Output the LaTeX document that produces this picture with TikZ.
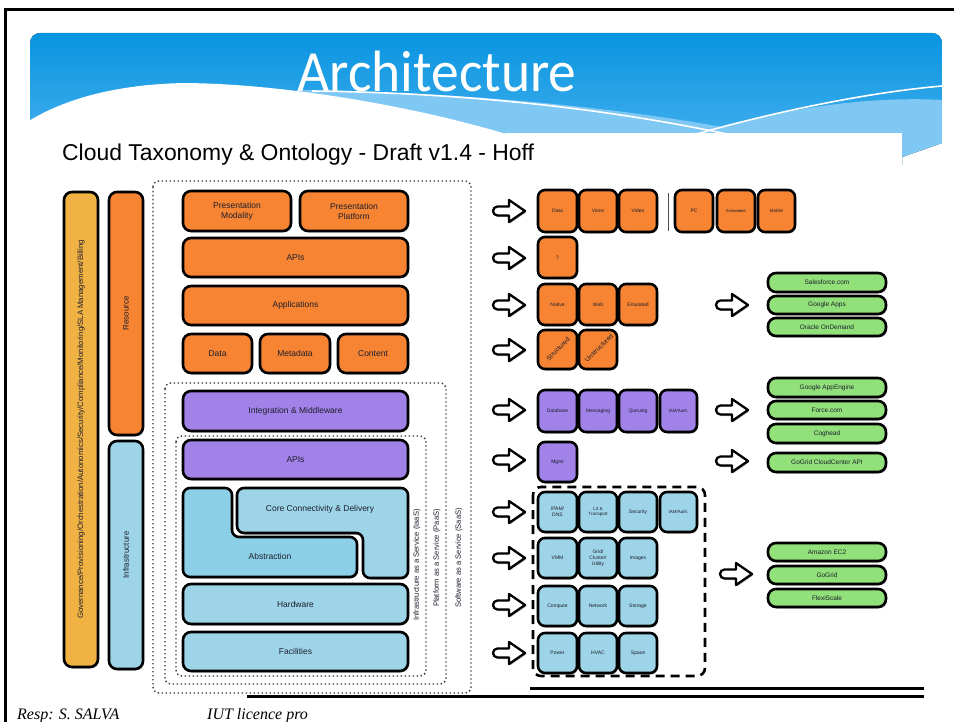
\documentclass[tikz,border=0pt]{standalone}
\usepackage{fontspec}
\setmainfont{Liberation Sans}
\newfontfamily\titlefont{Carlito}
\newfontfamily\footfont{Liberation Serif}
\usetikzlibrary{shadows}
\definecolor{borange}{RGB}{246,132,50}
\definecolor{gold}{RGB}{241,178,68}
\definecolor{bpurple}{RGB}{160,130,232}
\definecolor{lblue}{RGB}{157,212,232}
\definecolor{cblue}{RGB}{140,208,232}
\definecolor{bgreen}{RGB}{145,224,122}
\definecolor{hdrtop}{RGB}{8,148,224}
\definecolor{hdrbot}{RGB}{78,180,240}
\definecolor{wavelight}{RGB}{128,200,244}
\definecolor{txt}{RGB}{30,30,45}
\tikzset{
 shd/.style={drop shadow={shadow xshift=1pt,shadow yshift=-1.5pt,opacity=.3,fill=black}},
 bbox/.style={draw=black, line width=2.6pt, rounded corners=8pt, inner sep=0pt, align=center,
   font=\fontsize{8.5}{10}\selectfont, text=txt, shd},
 sbox/.style={bbox, rounded corners=7pt, font=\fontsize{5}{6}\selectfont},
 gbox/.style={bbox, fill=bgreen, font=\fontsize{6.5}{7.5}\selectfont},
 vlab/.style={rotate=90, text=txt, inner sep=0pt},
 dotbox/.style={draw=black!80, line width=1.4pt, dash pattern=on 1.4pt off 2.6pt, rounded corners=6pt},
 harrow/.pic={\draw[line width=2.3pt, fill=white, line join=round, shd]
   (4.5,-4.5) -- (16,-4.5) -- (16,-11) -- (32,0) -- (16,11) -- (16,4.5) -- (4.5,4.5)
   arc[start angle=90, end angle=270, radius=4.5] -- cycle;}
}
\newcommand\bx[7]{\node[#1, minimum width={(#5)-(#3)}, minimum height={(#6)-(#4)}] (#2) at ({((#3)+(#5))/2},{((#4)+(#6))/2}) {#7};}
\begin{document}
\begin{tikzpicture}[x=1pt,y=-1pt]
\useasboundingbox (0,0) rectangle (954,722);
\fill[white] (0,0) rectangle (954,722);
% header
\begin{scope}
\clip (30,165) -- (30,43) arc[start angle=180, end angle=270, radius=10] -- (932,33) arc[start angle=270, end angle=360, radius=10] -- (942,143) -- (902,157) -- (902,165) -- cycle;
\fill[top color=hdrtop, bottom color=hdrbot] (30,33) rectangle (942,165);
\fill[wavelight] (300,90) .. controls (450,92) and (600,105) .. (722,127) .. controls (790,108) and (870,96) .. (942,100) -- (942,165) -- (300,165) -- cycle;
\draw[white, line width=1.6pt] (312,91) .. controls (480,93) and (640,112) .. (775,145);
\draw[white, line width=1.6pt] (670,142) .. controls (750,117) and (860,93) .. (942,86);
\end{scope}
\fill[white] (24,124) .. controls (70,94) and (130,84) .. (185,83) .. controls (290,84) and (420,108) .. (506,134) -- (506,170) -- (24,170) -- cycle;
\fill[white] (505,133) rectangle (902,170);
\node[anchor=base, text=white, font=\titlefont\fontsize{55.5}{55}\selectfont, inner sep=0pt] (title) at (437,92) {\scalebox{1}[1.05]{Architecture}};
% frame
\draw[line width=3pt] (5,722) -- (5,10) -- (954,10);
% subtitle
\node[anchor=base west, inner sep=0pt, font=\fontsize{22.9}{23}\selectfont] (sub) at (62,161) {Cloud Taxonomy \& Ontology - Draft v1.4 - Hoff};

% dotted service boxes
\draw[dotbox] (153,181) rectangle (471,693);
\draw[dotbox] (165,383) rectangle (446,684);
\draw[dotbox] (176,436) rectangle (426,676);
\node[vlab, font=\fontsize{7.6}{8}\selectfont] (saas) at (459,558) {Software as a Service (SaaS)};
\node[vlab, font=\fontsize{7.6}{8}\selectfont] (paas) at (437,558) {Platform as a Service (PaaS)};
\node[vlab, font=\fontsize{7.6}{8}\selectfont] (iaas) at (417,565) {Infrastructure as a Service (IaaS)};

% left bars
\bx{bbox,fill=gold}{gov}{64}{192}{98}{667}{}
\node[vlab, font=\fontsize{7.8}{8}\selectfont] (govt) at (gov.center) {Governance/Provisioning/Orchestration/Autonomics/Security/Compliance/Monitoring/SLA Management/Billing};
\bx{bbox,fill=borange}{res}{109}{192}{143}{435}{}
\node[vlab, font=\fontsize{8}{8}\selectfont] (rest) at (res.center) {Resource};
\bx{bbox,fill=lblue}{inf}{109}{441}{143}{669}{}
\node[vlab, font=\fontsize{8}{8}\selectfont] (inft) at (inf.center) {Infrastructure};

% centre stack
\bx{bbox,fill=borange}{pm}{183}{191}{291}{231}{Presentation\\Modality}
\bx{bbox,fill=borange}{pp}{300}{191}{408}{231}{Presentation\\Platform}
\bx{bbox,fill=borange}{apis}{183}{238}{408}{277}{APIs}
\bx{bbox,fill=borange}{apps}{183}{286}{408}{325}{Applications}
\bx{bbox,fill=borange}{data}{183}{334}{252}{373}{Data}
\bx{bbox,fill=borange}{meta}{260}{334}{330}{373}{Metadata}
\bx{bbox,fill=borange}{cont}{338}{334}{408}{373}{Content}
\bx{bbox,fill=bpurple}{integ}{183}{391}{408}{431}{Integration \& Middleware}
\bx{bbox,fill=bpurple}{apis2}{183}{440}{408}{479}{APIs}
\draw[fill=cblue, line width=2.6pt, rounded corners=7pt, shd] (183,488) -- (232,488) -- (232,537) -- (357,537) -- (357,577) -- (183,577) -- cycle;
\draw[fill=lblue, line width=2.6pt, rounded corners=7pt, shd] (237,488) -- (408,488) -- (408,578) -- (363,578) -- (363,533) -- (237,533) -- cycle;
\node[text=txt, font=\fontsize{8.5}{10}\selectfont] (core) at (320,509) {Core Connectivity \& Delivery};
\node[text=txt, font=\fontsize{8.5}{10}\selectfont] (abst) at (270,556) {Abstraction};
\bx{bbox,fill=lblue}{hw}{183}{584}{408}{624}{Hardware}
\bx{bbox,fill=lblue}{fac}{183}{632}{408}{671}{Facilities}

% arrows
\foreach \yy in {211,258,305,350,410,460,512,558,605,653} \pic at (493,\yy) {harrow};
\foreach \yy in {305,410,461} \pic at (716,\yy) {harrow};
\pic at (720,574) {harrow};

% right small boxes
\bx{sbox,fill=borange}{sdata}{538}{190}{577}{232}{Data}
\bx{sbox,fill=borange}{svoice}{579}{190}{617}{232}{Voice}
\bx{sbox,fill=borange}{svideo}{619}{190}{657}{232}{Video}
\draw[line width=1pt, black!70] (668,193) -- (668,231);
\bx{sbox,fill=borange}{spc}{675}{190}{713}{232}{PC}
\bx{sbox,fill=borange,font=\fontsize{4}{5}\selectfont}{semb}{717}{190}{755}{232}{Embedded}
\bx{sbox,fill=borange,font=\fontsize{4.5}{5}\selectfont}{smob}{758}{190}{795}{232}{Mobile}
\bx{sbox,fill=borange}{sq}{538}{237}{577}{278}{?}
\bx{sbox,fill=borange}{snat}{538}{284}{577}{325}{Native}
\bx{sbox,fill=borange}{sweb}{579}{284}{617}{325}{Web}
\bx{sbox,fill=borange}{semu}{619}{284}{657}{325}{Emulated}
\bx{sbox,fill=borange}{sstr}{538}{330}{577}{369}{}
\bx{sbox,fill=borange}{sunstr}{579}{330}{617}{369}{}
\node[rotate=45, text=txt, font=\fontsize{6.5}{7}\selectfont, inner sep=0pt] (strt) at (558,349) {Structured};
\node[rotate=45, text=txt, font=\fontsize{6.5}{7}\selectfont, inner sep=0pt] (unstrt) at (599,348) {Unstructured};
\bx{sbox,fill=bpurple}{sdb}{538}{390}{577}{432}{Database}
\bx{sbox,fill=bpurple}{smsg}{579}{390}{617}{432}{Messaging}
\bx{sbox,fill=bpurple}{sque}{619}{390}{657}{432}{Queuing}
\bx{sbox,fill=bpurple,font=\fontsize{4.5}{5}\selectfont}{siam}{660}{390}{697}{432}{IAM/Auth.}
\bx{sbox,fill=bpurple}{smgmt}{538}{442}{577}{482}{Mgmt}
\bx{sbox,fill=lblue}{sipam}{538}{492}{577}{532}{IPAM/\\DNS}
\bx{sbox,fill=lblue,font=\fontsize{4.5}{5.5}\selectfont}{sl3}{579}{492}{617}{532}{L3 \&\\Transport}
\bx{sbox,fill=lblue}{ssec}{619}{492}{657}{532}{Security}
\bx{sbox,fill=lblue,font=\fontsize{4.5}{5}\selectfont}{siam2}{660}{492}{697}{532}{IAM/Auth.}
\bx{sbox,fill=lblue}{svmm}{538}{538}{577}{578}{VMM}
\bx{sbox,fill=lblue}{sgrid}{579}{538}{617}{578}{Grid/\\Cluster/\\Utility}
\bx{sbox,fill=lblue}{simg}{619}{538}{657}{578}{Images}
\bx{sbox,fill=lblue}{scomp}{538}{586}{577}{626}{Compute}
\bx{sbox,fill=lblue}{snet}{579}{586}{617}{626}{Network}
\bx{sbox,fill=lblue}{sstor}{619}{586}{657}{626}{Storage}
\bx{sbox,fill=lblue}{spow}{538}{633}{577}{673}{Power}
\bx{sbox,fill=lblue}{shvac}{579}{633}{617}{673}{HVAC}
\bx{sbox,fill=lblue}{sspace}{619}{633}{657}{673}{Space}
\draw[line width=2.6pt, dash pattern=on 9pt off 6pt, rounded corners=8pt] (533,487) rectangle (705,676);

% green boxes
\bx{gbox}{g1}{768}{273}{886}{292}{Salesforce.com}
\bx{gbox}{g2}{768}{296}{886}{314}{Google Apps}
\bx{gbox}{g3}{768}{318}{886}{336}{Oracle OnDemand}
\bx{gbox}{g4}{768}{378}{886}{397}{Google AppEngine}
\bx{gbox}{g5}{768}{401}{886}{419}{Force.com}
\bx{gbox}{g6}{768}{424}{886}{443}{Coghead}
\bx{gbox}{g7}{768}{453}{886}{472}{GoGrid CloudCenter API}
\bx{gbox}{g8}{768}{543}{886}{561}{Amazon EC2}
\bx{gbox}{g9}{768}{566}{886}{584}{GoGrid}
\bx{gbox}{g10}{768}{589}{886}{607}{FlexiScale}

% bottom rules
\draw[line width=3pt] (530,688) -- (924,688);
\draw[line width=3pt] (247,696) -- (924,696);

% footer
\node[anchor=base west, inner sep=0pt, font=\footfont\itshape\fontsize{16}{16}\selectfont] (resp) at (17,719) {Resp: S. SALVA};
\node[anchor=base west, inner sep=0pt, font=\footfont\itshape\fontsize{16}{16}\selectfont] (iut) at (207,719) {IUT licence pro};
\end{tikzpicture}
\end{document}
